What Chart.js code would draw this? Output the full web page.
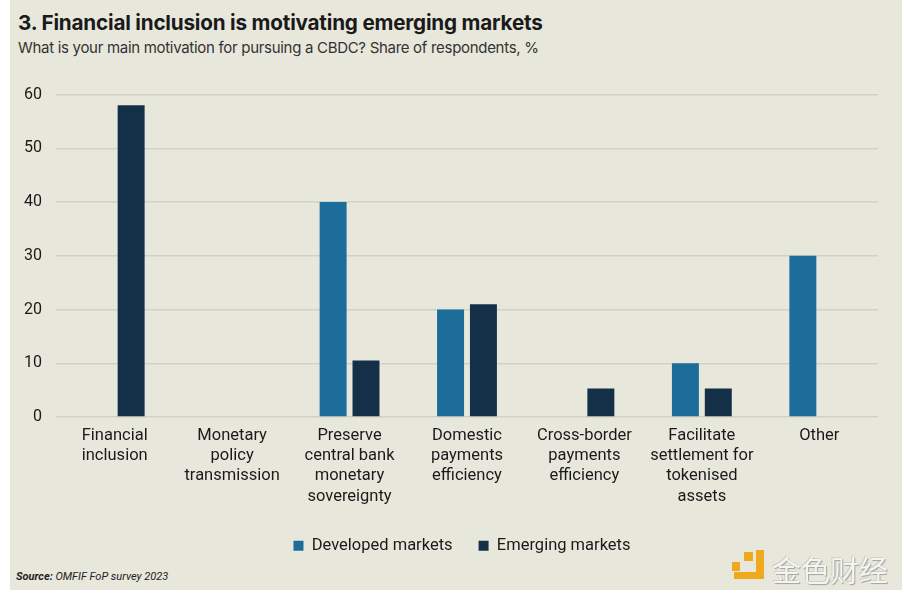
<!DOCTYPE html>
<html>
<head>
<meta charset="utf-8">
<script src="https://cdn.jsdelivr.net/npm/chart.js@4.4.0/dist/chart.umd.min.js"></script>
<style>
    body { margin: 0; background: #ffffff; }
    #card {
        position: absolute; left: 10px; top: 0; width: 892px; height: 590px;
        background: #e8e7dc; font-family: Roboto, sans-serif; color: #1a1a1a;
    }
    #title { position: absolute; left: 8px; top: 10px; font: bold 20.7px Inter, sans-serif; letter-spacing: -0.2px; }
    #subtitle { position: absolute; left: 8px; top: 38px; font: 15px Inter, sans-serif; color: #333; letter-spacing: -0.3px; }
    #chartBox { position: absolute; left: 0; top: 71px; width: 880px; height: 493px; }
    #source { position: absolute; left: 6px; top: 570px; font: italic 11px Roboto, sans-serif; color: #222; }
    #source b { font-weight: bold; }
    #mark { position: absolute; left: 722px; top: 548px; height: 36px; }
    #mark .logo1 { position: absolute; left: 0; top: 14px; width: 8px; height: 9px; background: #f0a81c; }
    #mark .logo2 { position: absolute; left: 12px; top: 4px; width: 9px; height: 9px; background: #f0a81c; }
    #mark .logo3 { position: absolute; left: 24px; top: 2px; width: 8px; height: 29px; background: #f0a81c; }
    #mark .logo4 { position: absolute; left: 2px; top: 24px; width: 30px; height: 7px; background: #f0a81c; }
    #mark .txt { position: absolute; left: 40px; top: 0; font: 29px "Noto Sans CJK SC", sans-serif; color: #f4f4f0; white-space: nowrap;
        text-shadow: 1px 1px 1px #a4a49e, -1px -1px 0 #d0d0c8; }
</style>
</head>
<body>
<div id="card">
    <div id="title">3. Financial inclusion is motivating emerging markets</div>
    <div id="subtitle">What is your main motivation for pursuing a CBDC? Share of respondents, %</div>
    <div id="chartBox"><canvas id="cbdcChart"></canvas></div>
    <div id="source"><b>Source:</b> OMFIF FoP survey 2023</div>
    <div id="mark">
        <div class="logo1"></div><div class="logo2"></div><div class="logo3"></div><div class="logo4"></div>
        <div class="txt">金色财经</div>
    </div>
</div>
<script>
// Chart data
const categories = [
    ['Financial', 'inclusion'],
    ['Monetary', 'policy', 'transmission'],
    ['Preserve', 'central bank', 'monetary', 'sovereignty'],
    ['Domestic', 'payments', 'efficiency'],
    ['Cross-border', 'payments', 'efficiency'],
    ['Facilitate', 'settlement for', 'tokenised', 'assets'],
    ['Other']
];
const developedMarkets = [null, 0, 40, 20, null, 10, 30];
const emergingMarkets = [58, 0, 10.5, 21, 5.3, 5.3, null];
const yTicks = [0, 10, 20, 30, 40, 50, 60];

// Legend in the original sits a little right of the canvas centre
const legendShift = {
    id: 'legendShift',
    afterLayout(chart) {
        const legend = chart.legend;
        legend.left += 18;
        legend.right += 18;
        if (legend.adjustHitBoxes) legend.adjustHitBoxes();
    }
};

const ctx = document.getElementById('cbdcChart').getContext('2d');

new Chart(ctx, {
    type: 'bar',
    data: {
        labels: categories,
        datasets: [{
            label: 'Developed markets',
            data: developedMarkets,
            backgroundColor: '#1c6d9a',
            categoryPercentage: 0.56,
            barPercentage: 0.82
        }, {
            label: 'Emerging markets',
            data: emergingMarkets,
            backgroundColor: '#143048',
            categoryPercentage: 0.56,
            barPercentage: 0.82
        }]
    },
    options: {
        responsive: true,
        maintainAspectRatio: false,
        animation: false,
        layout: { padding: { left: 0, right: 12, top: 0, bottom: 0 } },
        plugins: {
            legend: {
                position: 'bottom',
                labels: {
                    boxWidth: 10,
                    boxHeight: 10,
                    padding: 26,
                    color: '#1a1a1a',
                    font: { family: 'Roboto', size: 16.5 }
                }
            },
            tooltip: { enabled: false }
        },
        scales: {
            x: {
                grid: { display: false },
                border: { display: false },
                afterFit: axis => { axis.height += 4; },
                ticks: {
                    color: '#1a1a1a',
                    maxRotation: 0,
                    padding: 1,
                    font: { family: 'Roboto', size: 16.5, lineHeight: 1.22 }
                }
            },
            y: {
                min: 0,
                max: 60,
                afterBuildTicks: axis => { axis.ticks = yTicks.map(v => ({ value: v })); },
                grid: { color: '#d2d1c5', lineWidth: 1.5, drawTicks: false },
                border: { display: false },
                ticks: {
                    color: '#1a1a1a',
                    padding: 14,
                    font: { family: 'Roboto', size: 16 }
                }
            }
        }
    },
    plugins: [legendShift]
});
</script>
</body>
</html>
